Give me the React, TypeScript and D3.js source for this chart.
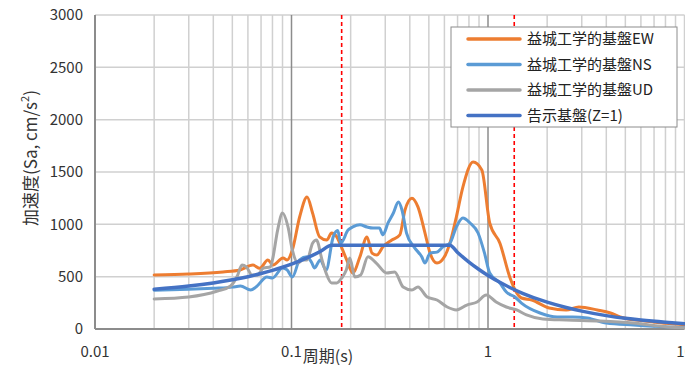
import React from "react";
import * as d3 from "d3";

// 周期 (s) and Sa (cm/s^2)
const ewPeriods = [0.02, 0.03, 0.0448, 0.0547, 0.0636, 0.069, 0.0758, 0.0805, 0.0906, 0.095, 0.101, 0.11, 0.12, 0.128, 0.139, 0.151, 0.16, 0.17, 0.176, 0.191, 0.205, 0.223, 0.242, 0.257, 0.272, 0.292, 0.324, 0.356, 0.378, 0.41, 0.44, 0.478, 0.507, 0.55, 0.6, 0.64, 0.69, 0.745, 0.84, 0.93, 1.02, 1.15, 1.29, 1.4, 1.48, 1.67, 2.05, 2.5, 2.9, 3.6, 4.2, 4.7, 6, 8, 10];
const ewValues = [516, 525, 545, 564, 611, 580, 660, 611, 678, 660, 755, 1070, 1261, 1108, 880, 850, 917, 880, 820, 660, 535, 690, 880, 725, 707, 785, 850, 900, 1137, 1250, 1167, 917, 725, 630, 690, 820, 1070, 1356, 1595, 1520, 1013, 820, 497, 344, 296, 277, 200, 182, 210, 182, 153, 115, 80, 55, 40];

const nsPeriods = [0.02, 0.03, 0.04, 0.05, 0.055, 0.062, 0.066, 0.075, 0.08, 0.09, 0.095, 0.101, 0.11, 0.12, 0.127, 0.131, 0.14, 0.15, 0.163, 0.172, 0.178, 0.194, 0.205, 0.223, 0.242, 0.26, 0.28, 0.292, 0.31, 0.33, 0.35, 0.365, 0.385, 0.42, 0.46, 0.478, 0.507, 0.55, 0.59, 0.64, 0.69, 0.745, 0.81, 0.89, 0.96, 1.02, 1.15, 1.24, 1.37, 1.48, 1.84, 2.25, 2.7, 3.2, 4, 5.5, 8.2, 10];
const nsValues = [370, 380, 390, 400, 410, 372, 401, 497, 487, 583, 564, 497, 660, 690, 630, 583, 660, 564, 880, 940, 820, 945, 975, 995, 975, 965, 965, 900, 1013, 1108, 1213, 1137, 917, 785, 690, 630, 725, 735, 785, 820, 975, 1060, 1013, 917, 725, 535, 440, 353, 306, 248, 153, 115, 115, 105, 57, 38, 20, 15];

const udPeriods = [0.02, 0.03, 0.042, 0.049, 0.053, 0.056, 0.059, 0.063, 0.067, 0.072, 0.078, 0.08, 0.085, 0.09, 0.096, 0.101, 0.108, 0.114, 0.12, 0.128, 0.134, 0.143, 0.15, 0.16, 0.17, 0.18, 0.19, 0.198, 0.21, 0.225, 0.245, 0.27, 0.305, 0.335, 0.37, 0.41, 0.44, 0.49, 0.55, 0.62, 0.69, 0.78, 0.88, 0.98, 1.1, 1.24, 1.4, 1.57, 1.9, 2.5, 3.7, 5.5, 8.2, 10];
const udValues = [287, 306, 363, 411, 506, 611, 592, 516, 516, 583, 592, 660, 945, 1108, 975, 755, 630, 660, 660, 820, 850, 660, 535, 440, 440, 487, 564, 678, 497, 516, 690, 630, 535, 545, 401, 372, 401, 306, 277, 210, 182, 229, 258, 325, 258, 210, 182, 134, 96, 86, 76, 57, 20, 12];

const kokujiPeriods = [0.02, 0.03, 0.04, 0.05, 0.06, 0.07, 0.08, 0.09, 0.1, 0.12, 0.14, 0.16, 0.64, 0.7, 0.8, 0.9, 1, 1.2, 1.5, 2, 2.5, 3, 4, 5, 6, 8, 10];
const kokujiValues = [380, 410, 440, 470, 500, 530, 560, 590, 620, 680, 740, 800, 800, 731, 640, 569, 512, 427, 341, 256, 205, 171, 128, 102, 85, 64, 51];

const seriesNames = ["益城工学的基盤EW", "益城工学的基盤NS", "益城工学的基盤UD", "告示基盤(Z=1)"];
const seriesColors = ["#ED7D31", "#5B9BD5", "#A5A5A5", "#4472C4"];

const xTickLabels = [0.01, 0.1, 1, 10];
const yTicks = [0, 500, 1000, 1500, 2000, 2500, 3000];
const markerPeriods = [0.18, 1.36];

const font = "'Noto Sans CJK JP', 'Noto Sans', sans-serif";

const App = () => {
  const left = 95;
  const right = 684.5;
  const top = 15;
  const bottom = 329;

  const x = d3.scaleLog().domain([0.01, 10]).range([left, right]);
  const y = d3.scaleLinear().domain([0, 3000]).range([bottom, top]);

  const minor: number[] = [];
  [0.01, 0.1, 1].forEach((dec) => {
    for (let k = 2; k <= 9; k++) minor.push(dec * k);
  });
  minor.push(10);

  const series = [
    { p: ewPeriods, v: ewValues, w: 3 },
    { p: nsPeriods, v: nsValues, w: 3 },
    { p: udPeriods, v: udValues, w: 3 },
    { p: kokujiPeriods, v: kokujiValues, w: 3.5 },
  ];

  const line = d3
    .line<[number, number]>()
    .x((d) => x(d[0]))
    .y((d) => y(d[1]))
    .curve(d3.curveMonotoneX);

  const legendRows = [39, 64.5, 90, 115.5];

  return (
    <div>
      <style>{`body{margin:0;overflow:hidden}`}</style>
      <svg width={700} height={380} style={{ display: "block", fontFamily: font }}>
        <rect width={700} height={380} fill="#fff" />
        {minor.map((t) => (
          <line key={"v" + t} x1={x(t)} x2={x(t)} y1={top} y2={bottom} stroke="#d0d0d0" strokeWidth={1.5} />
        ))}
        {yTicks.slice(1).map((t) => (
          <line key={"h" + t} x1={left} x2={right} y1={y(t)} y2={y(t)} stroke="#d0d0d0" strokeWidth={1.5} />
        ))}
        {[0.1, 1].map((t) => (
          <line key={"m" + t} x1={x(t)} x2={x(t)} y1={top} y2={bottom} stroke="#8c8c8c" strokeWidth={1.5} />
        ))}
        <line x1={left} x2={left} y1={top} y2={bottom} stroke="#8c8c8c" strokeWidth={2} />
        <line x1={left} x2={right} y1={bottom} y2={bottom} stroke="#8c8c8c" strokeWidth={2} />

        {markerPeriods.map((t) => (
          <line key={"r" + t} x1={x(t)} x2={x(t)} y1={top} y2={bottom} stroke="#ff0000" strokeWidth={1.6} strokeDasharray="4,3" />
        ))}

        {series.map((s, i) => (
          <path
            key={"s" + i}
            d={line(s.p.map((p, j) => [p, s.v[j]] as [number, number])) || ""}
            fill="none"
            stroke={seriesColors[i]}
            strokeWidth={s.w}
            strokeLinejoin="round"
            strokeLinecap="round"
          />
        ))}

        {yTicks.map((t) => (
          <text key={"yt" + t} x={83} y={y(t)} dy="0.35em" textAnchor="end" fontSize={15} fill="#333">
            {t}
          </text>
        ))}
        {xTickLabels.map((t) => (
          <text key={"xt" + t} x={x(t)} y={357} textAnchor="middle" fontSize={15} fill="#333">
            {t}
          </text>
        ))}

        <text x={328} y={362} textAnchor="middle" fontSize={16} fill="#333">
          周期(s)
        </text>
        <text transform="translate(37,158) rotate(-90)" textAnchor="middle" fontSize={17} fill="#333">
          加速度(Sa, cm/s<tspan baselineShift="super" fontSize={11}>2</tspan>)
        </text>

        <rect x={451} y={27} width={226} height={100} fill="#fff" stroke="#8c8c8c" strokeWidth={1} />
        {seriesNames.map((n, i) => (
          <g key={"l" + i}>
            <line x1={468} x2={520} y1={legendRows[i]} y2={legendRows[i]} stroke={seriesColors[i]} strokeWidth={3.5} strokeLinecap="round" />
            <text x={527} y={legendRows[i]} dy="0.35em" fontSize={15} fill="#222">
              {n}
            </text>
          </g>
        ))}
      </svg>
    </div>
  );
};

export default App;
